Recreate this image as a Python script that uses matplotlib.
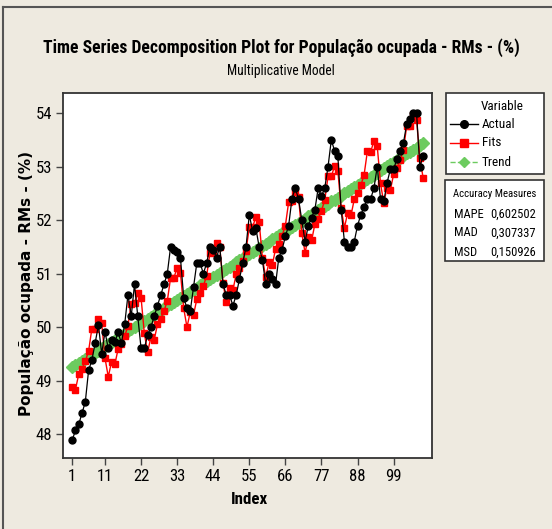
import matplotlib
matplotlib.use("Agg")
import matplotlib.pyplot as plt
from matplotlib import font_manager
from matplotlib.lines import Line2D
from matplotlib.patches import Rectangle

# Minitab uses a narrow font; take the narrowest one that is installed
names = set(f.name for f in font_manager.fontManager.ttflist)
narrow = "Roboto"
for cand in ["Liberation Sans Narrow", "Roboto Condensed", "Arial Narrow"]:
    if cand in names:
        narrow = cand
        break

# data
index = list(range(1, 109))

actual = [47.88, 48.07, 48.18, 48.39, 48.60, 49.19, 49.38, 49.70, 50.04, 49.50,
          49.91, 49.60, 49.75, 49.72, 49.90, 49.70, 50.05, 50.60, 50.20, 50.80,
          50.20, 49.60, 49.60, 49.85, 50.00, 50.20, 50.40, 50.60, 50.80, 51.00,
          51.50, 51.45, 51.40, 51.30, 50.55, 50.35, 50.30, 50.75, 51.20, 51.20,
          51.00, 51.20, 51.50, 51.45, 51.30, 51.50, 50.80, 50.60, 50.60, 50.40,
          50.60, 50.90, 51.20, 51.50, 52.10, 51.80, 51.85, 51.50, 51.25, 50.80,
          51.00, 50.90, 50.80, 51.30, 51.45, 51.70, 51.90, 52.40, 52.60, 52.40,
          52.00, 51.60, 51.90, 52.05, 52.20, 52.60, 52.45, 52.60, 53.00, 53.50,
          53.30, 53.20, 52.20, 51.60, 51.50, 51.50, 51.60, 51.90, 52.10, 52.25,
          52.40, 52.40, 52.60, 53.00, 52.40, 52.35, 52.70, 52.95, 52.95, 53.15,
          53.30, 53.45, 53.80, 53.90, 54.00, 54.00, 53.00, 53.20]

fits = [48.88, 48.83, 49.12, 49.22, 49.36, 49.55, 49.97, 49.97, 50.15, 50.07,
        49.42, 49.07, 49.35, 49.30, 49.59, 49.69, 49.83, 50.02, 50.44, 50.45,
        50.63, 50.55, 49.88, 49.53, 49.81, 49.76, 50.05, 50.16, 50.30, 50.49,
        50.92, 50.92, 51.11, 51.02, 50.35, 50.00, 50.28, 50.23, 50.52, 50.63,
        50.77, 50.96, 51.39, 51.40, 51.58, 51.49, 50.82, 50.46, 50.74, 50.69,
        50.99, 51.10, 51.24, 51.43, 51.87, 51.87, 52.06, 51.97, 51.29, 50.93,
        51.21, 51.16, 51.46, 51.56, 51.71, 51.90, 52.34, 52.35, 52.53, 52.44,
        51.76, 51.39, 51.68, 51.62, 51.93, 52.03, 52.18, 52.37, 52.82, 52.82,
        53.01, 52.92, 52.22, 51.86, 52.14, 52.09, 52.39, 52.50, 52.65, 52.85,
        53.29, 53.28, 53.48, 53.39, 52.69, 52.32, 52.61, 52.56, 52.86, 52.97,
        53.12, 53.32, 53.77, 53.76, 53.96, 53.87, 53.16, 52.79]

trend = [49.25, 49.29, 49.33, 49.37, 49.41, 49.45, 49.49, 49.52, 49.56, 49.60,
         49.64, 49.68, 49.72, 49.76, 49.80, 49.84, 49.88, 49.92, 49.96, 50.00,
         50.03, 50.07, 50.11, 50.15, 50.19, 50.23, 50.27, 50.31, 50.35, 50.39,
         50.43, 50.47, 50.50, 50.54, 50.58, 50.62, 50.66, 50.70, 50.74, 50.78,
         50.82, 50.86, 50.90, 50.94, 50.97, 51.01, 51.05, 51.09, 51.13, 51.17,
         51.21, 51.25, 51.29, 51.33, 51.37, 51.41, 51.44, 51.48, 51.52, 51.56,
         51.60, 51.64, 51.68, 51.72, 51.76, 51.80, 51.84, 51.88, 51.91, 51.95,
         51.99, 52.03, 52.07, 52.11, 52.15, 52.19, 52.23, 52.27, 52.31, 52.35,
         52.38, 52.42, 52.46, 52.50, 52.54, 52.58, 52.62, 52.66, 52.70, 52.74,
         52.78, 52.81, 52.85, 52.89, 52.93, 52.97, 53.01, 53.05, 53.09, 53.13,
         53.17, 53.21, 53.25, 53.28, 53.32, 53.36, 53.40, 53.44]

xticks = [1, 11, 22, 33, 44, 55, 66, 77, 88, 99]
yticks = [48, 49, 50, 51, 52, 53, 54]
measures = [("MAPE", "0,602502"), ("MAD", "0,307337"), ("MSD", "0,150926")]

bg = "#EEEAE0"
green = "#6CCB5F"
W, H = 552, 529

fig = plt.figure(figsize=(5.52, 5.29), dpi=100, facecolor=bg)
renderer = fig.canvas.get_renderer()


def fit(txt, width=None, height=None):
    # shrink/grow a text so it spans the same pixels as in the picture
    bb = txt.get_window_extent(renderer)
    size = txt.get_fontsize()
    if width is not None:
        txt.set_fontsize(size * width / bb.width)
    else:
        txt.set_fontsize(size * height / bb.height)
    return txt


# outer frame (left and top edges visible)
fig.add_artist(Line2D([3 / W, 3 / W], [0, 1 - 7 / H], color="#555555", lw=1.5))
fig.add_artist(Line2D([3 / W, 1], [1 - 7 / H, 1 - 7 / H], color="#555555", lw=1.5))

ax = fig.add_axes([63 / W, 1 - 458 / H, (432 - 63) / W, (458 - 93) / H])
ax.set_facecolor("white")

ax.plot(index, trend, color=green, lw=1.2, ls="--", marker="D", ms=6.5,
        markeredgecolor=green, zorder=2)
ax.plot(index, fits, color="red", lw=1, marker="s", ms=4.5, zorder=3)
ax.plot(index, actual, color="black", lw=0.9, marker="o", ms=5, zorder=4)

ax.set_xlim(-1.8, 110.7)
ax.set_ylim(47.55, 54.38)
ax.set_xticks(xticks)
ax.set_yticks(yticks)
ax.tick_params(direction="out", length=5, width=1, color="#444444",
               labelsize=12, pad=3)
for lab in ax.get_xticklabels() + ax.get_yticklabels():
    lab.set_fontfamily(narrow)
for s in ax.spines.values():
    s.set_color("#333333")
    s.set_linewidth(1.3)

fit(fig.text(250 / W, 1 - 500 / H, "Index", ha="center", va="center",
             fontsize=12, fontweight="bold", family=narrow), width=37)
fit(fig.text(27 / W, 1 - 283 / H, "População ocupada - RMs - (%)", rotation=90,
             ha="center", va="center", fontsize=12, fontweight="bold"), height=265)

fit(fig.text(281 / W, 1 - 48 / H,
             "Time Series Decomposition Plot for População ocupada - RMs - (%)",
             ha="center", va="center", fontsize=12, fontweight="bold",
             family=narrow), width=478)
fit(fig.text(281 / W, 1 - 71 / H, "Multiplicative Model", ha="center",
             va="center", fontsize=10, family=narrow), width=108)

# legend box
lx0, lx1, ly0, ly1 = 446, 544, 93, 174
fig.add_artist(Rectangle((lx0 / W, 1 - ly1 / H), (lx1 - lx0) / W, (ly1 - ly0) / H,
                         transform=fig.transFigure, facecolor="white",
                         edgecolor="#333333", lw=1.2))
fig.text(502 / W, 1 - 106 / H, "Variable", ha="center", va="center",
         fontsize=9.5, family=narrow)
entries = [("Actual", "black", "-", "o"), ("Fits", "red", "-", "s"),
           ("Trend", green, "--", "D")]
for i, (name, col, ls, mk) in enumerate(entries):
    y = 1 - (124 + i * 19) / H
    fig.add_artist(Line2D([450 / W, 478 / W], [y, y], color=col, ls=ls, lw=1))
    fig.add_artist(Line2D([464 / W], [y], color=col, marker=mk, ms=5.5, ls="none"))
    fig.text(482 / W, y, name, ha="left", va="center", fontsize=9.5, family=narrow)

# accuracy measures box
x0, x1, y0, y1 = 445, 544, 180, 261
fig.add_artist(Rectangle((x0 / W, 1 - y1 / H), (x1 - x0) / W, (y1 - y0) / H,
                         transform=fig.transFigure, facecolor="white",
                         edgecolor="#333333", lw=1.2))
fit(fig.text((x0 + x1) / 2 / W, 1 - 194 / H, "Accuracy Measures", ha="center",
             va="center", fontsize=9.5, family=narrow), width=84)
for i, (name, val) in enumerate(measures):
    y = 1 - (214 + i * 19) / H
    fig.text(454 / W, y, name, ha="left", va="center", fontsize=9, family=narrow)
    fig.text(536 / W, y, val, ha="right", va="center", fontsize=9, family=narrow)

plt.savefig("out.png", dpi=100, facecolor=bg)
